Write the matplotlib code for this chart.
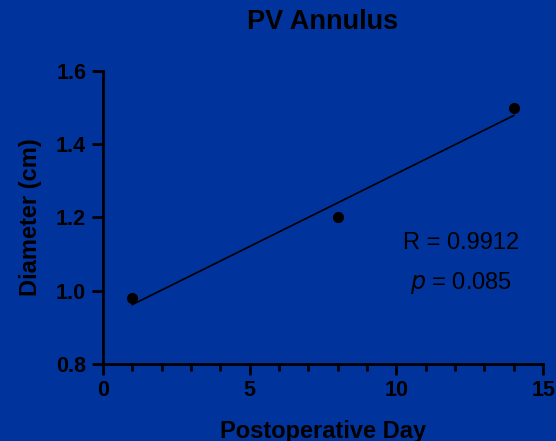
import numpy as np
import matplotlib
matplotlib.use('Agg')
import matplotlib.pyplot as plt
from matplotlib.ticker import MultipleLocator

plt.rcParams['font.family'] = ['Liberation Sans', 'DejaVu Sans']

# --- data ---
days = [1, 8, 14]
diameter = [0.98, 1.20, 1.50]
r_text = 'R = 0.9912'
p_text = r'$p$ = 0.085'

bg = '#00339c'

fig = plt.figure(figsize=(5.56, 4.41), dpi=100, facecolor=bg)
ax = fig.add_axes([0.185, 0.175, 0.792, 0.664], facecolor=bg)

# linear fit over the measured range
slope, intercept = np.polyfit(days, diameter, 1)
fit_x = np.array([min(days), max(days)])
ax.plot(fit_x, slope * fit_x + intercept, color='black', linewidth=1.2, zorder=2)
ax.plot(days, diameter, 'o', color='black', markersize=7, zorder=3)

ax.set_xlim(0, 15)
ax.set_ylim(0.8, 1.6)
ax.xaxis.set_major_locator(MultipleLocator(5))
ax.xaxis.set_minor_locator(MultipleLocator(1))
ax.set_yticks([0.8, 1.0, 1.2, 1.4, 1.6])
ax.set_yticklabels(['0.8', '1.0', '1.2', '1.4', '1.6'])

for side in ['top', 'right']:
    ax.spines[side].set_visible(False)
for side in ['left', 'bottom']:
    ax.spines[side].set_linewidth(2)
    ax.spines[side].set_color('black')

ax.tick_params(axis='both', which='major', length=8, width=2, color='black',
               labelsize=15.5, labelcolor='black', pad=4)
ax.tick_params(axis='x', which='minor', length=5, width=2, color='black')
for lbl in ax.get_xticklabels() + ax.get_yticklabels():
    lbl.set_fontweight('bold')

ax.set_xlabel('Postoperative Day', fontsize=17, fontweight='bold', color='black', labelpad=13)
ax.set_ylabel('Diameter (cm)', fontsize=17, fontweight='bold', color='black', labelpad=10)
fig.text(0.58, 0.95, 'PV Annulus', fontsize=19.5, fontweight='bold', color='black',
         ha='center', va='center')

ax.text(12.2, 1.13, r_text, fontsize=17, color='black', ha='center', va='center')
ax.text(12.2, 1.02, p_text, fontsize=17, color='black', ha='center', va='center')

fig.savefig('out.png', dpi=100, facecolor=bg)
